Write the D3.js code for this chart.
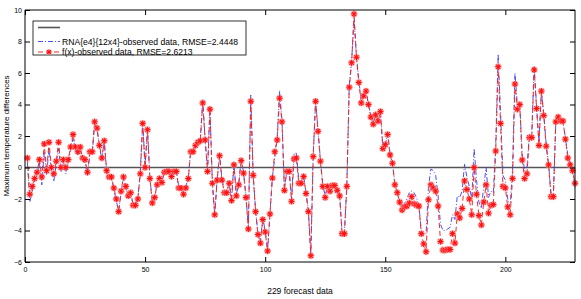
<!DOCTYPE html>
<html>
<head>
<meta charset="utf-8">
<script src="https://cdn.jsdelivr.net/npm/d3@7"></script>
<style>
body { margin: 0; background: #fff; }
svg { font-family: 'Liberation Sans', Arial, sans-serif; }
</style>
</head>
<body>
<script>
// f(x)-observed differences, forecast 1..229
const fxObs = [
  0.6, -1.7, -1.2, -0.7, -0.3, 0.5, -0.6, 1.5, -0.2, 1.6,
  0.0, -0.4, 0.4, 1.6, 0.0, 0.5, 0.0, 0.5, 1.3, 2.1,
  1.3, 1.0, 1.3, 0.6, 0.5, -0.3, 1.0, 1.0, 2.9, 2.5,
  1.4, 0.6, 1.7, -0.2, -0.6, -0.6, -1.3, -2.0, -2.8, -1.5,
  -0.6, -1.2, -1.8, -1.6, -2.4, -2.4, -2.0, -0.4, 2.8, 0.0,
  2.4, -0.7, -2.25, -1.9, -1.1, -0.7, -0.95, -0.3, -0.25, -0.25,
  -0.57, -0.25, -0.25, -1.3, -1.3, -1.7, -1.3, -0.7, 1.0, 1.0,
  1.4, 1.6, 1.7, 4.1, 1.75, -0.25, 3.7, -1.0, -3.0, -0.8,
  0.75, -0.8, -1.6, -1.6, -1.0, -2.1, 0.17, -1.8, -1.1, 0.44,
  -0.36, -1.9, -3.9, 4.2, -0.5, -2.8, -4.25, -4.8, -3.3, -4.1,
  -5.3, -2.95, -0.67, 1.0, 1.75, 4.4, 2.9, -1.45, -0.25, -0.25,
  -2.15, 0.55, 0.6, -1.0, -1.0, -0.57, -1.65, -2.8, -5.6, 0.7,
  4.2, 2.3, 0.4, -1.2, -1.9, -1.2, -1.5, -1.15, -1.15, -1.45,
  -1.8, -4.2, -4.2, -1.2, 5.1, 6.65, 9.75, 7.0, 5.4, 4.1,
  4.55, 4.85, 4.0, 3.2, 2.75, 3.35, 2.95, 3.55, 1.2, 1.45,
  2.1, 0.8, 0.27, -1.1, -1.6, -2.2, -2.7, -2.5, -2.45, -2.25,
  -1.85, -2.3, -2.4, -2.45, -4.2, -4.85, -5.35, -2.05, -1.1, -1.3,
  -1.5, -2.45, -4.7, -5.25, -5.25, -5.2, -5.2, -4.2, -4.8, -2.95,
  -3.2, -2.6, -0.85, -1.4, -2.0, -3.0, 0.0, -1.7, -3.05, -3.65,
  -2.2, -1.1, -2.9, -2.4, -2.35, 1.05, 6.4, 2.8, -1.2, -1.3,
  -2.5, -3.0, -0.7, 5.3, 3.7, 4.0, 0.48, -0.7, -0.4, 1.9,
  1.9, 6.2, 3.75, 1.4, 4.85, 3.3, 1.35, 0.17, -1.85, -1.85,
  2.9, 3.2, 2.95, 2.95, 1.8, 0.6, 0.17, -0.2, -1.0
]

// RNA{e4}{12x4}-observed differences
const rnaObs = [
  0.3, -2.2, -1.5, -0.9, -0.4, 0.3, -1.1, 1.0, -0.5, 1.2,
  -0.2, -0.9, 0.2, 1.2, -0.3, 0.3, -0.4, 0.3, 1.1, 1.9,
  1.1, 0.8, 1.2, 0.4, 0.3, -0.5, 0.8, 0.9, 2.8, 2.4,
  1.3, 0.5, 1.6, -0.3, -0.7, -0.7, -1.4, -2.1, -2.8, -1.6,
  -0.7, -1.3, -1.8, -1.6, -2.3, -2.3, -1.9, -0.3, 2.9, 0.1,
  2.5, -0.6, -2.2, -1.8, -1.0, -0.6, -0.9, -0.2, -0.1, -0.1,
  -0.5, -0.2, -0.2, -1.2, -1.2, -1.6, -1.2, -0.6, 1.1, 1.1,
  1.5, 1.7, 1.8, 4.3, 1.8, -0.2, 3.8, -0.9, -3.0, -0.7,
  0.8, -0.7, -1.5, -1.5, -0.9, -2.0, 0.3, -1.7, -1.0, 0.5,
  -0.3, -1.8, -3.8, 4.6, -0.4, -2.7, -4.2, -4.7, -3.2, -4.0,
  -5.2, -2.9, -0.6, 0.6, 1.9, 4.9, 3.0, -1.3, -0.2, -0.2,
  -2.0, 0.9, 0.9, -0.8, -0.9, -0.5, -1.6, -2.7, -5.5, 0.8,
  4.3, 2.4, 0.5, -1.1, -1.8, -1.1, -1.4, -1.1, -1.1, -1.4,
  -1.7, -4.1, -4.1, -1.1, 5.2, 6.8, 9.4, 7.1, 5.5, 4.3,
  4.4, 4.8, 4.0, 3.3, 2.8, 3.4, 3.0, 3.5, 1.3, 1.5,
  2.2, 0.9, 0.3, -1.0, -1.5, -2.1, -2.5, -2.3, -2.0, -1.6,
  -1.5, -1.6, -1.9, -2.4, -4.0, -4.3, -4.2, -1.2, -0.1, -0.2,
  -0.5, -1.8, -3.6, -4.0, -4.0, -3.9, -3.8, -3.0, -3.3, -1.8,
  -1.9, -1.5, 0.2, -0.6, -1.2, -2.0, 1.2, -0.8, -2.2, -2.6,
  -1.2, 0.0, -1.9, -1.5, -1.6, 1.5, 7.2, 3.5, -0.5, -0.8,
  -2.0, -2.5, 0.0, 6.0, 4.0, 4.0, 0.9, -0.2, 0.0, 2.1,
  2.2, 6.4, 3.9, 1.6, 4.9, 3.4, 1.5, 0.2, -1.6, -1.7,
  2.8, 3.2, 3.0, 2.9, 1.9, 0.8, 0.3, -0.3, -1.3
]

const xTicks = [0, 50, 100, 150, 200]
const yTicks = [-6, -4, -2, 0, 2, 4, 6, 8, 10]
const legendLabels = ['', 'RNA{e4}{12x4}-observed data, RMSE=2.4448', 'f(x)-observed data, RMSE=2.6213']

const W = 581
const H = 299
const plot = { left: 25, right: 575, top: 10, bottom: 262 }

const x = d3.scaleLinear().domain([0, 229]).range([plot.left, plot.right])
const y = d3.scaleLinear().domain([-6, 10]).range([plot.bottom, plot.top])

const svg = d3.select('body').append('svg')
	.attr('width', W)
	.attr('height', H)

const pts = (arr) => arr.map((v, i) => [i + 1, v])

const line = d3.line()
	.x(d => x(d[0]))
	.y(d => y(d[1]))

// zero reference line
svg.append('line')
	.attr('x1', plot.left).attr('x2', plot.right)
	.attr('y1', y(0)).attr('y2', y(0))
	.attr('stroke', '#555')
	.attr('stroke-width', 1.6)

svg.append('path')
	.datum(pts(rnaObs))
	.attr('d', line)
	.attr('fill', 'none')
	.attr('stroke', '#3a3af5')
	.attr('stroke-width', 0.9)
	.attr('stroke-dasharray', '5,2,1,2')

svg.append('path')
	.datum(pts(fxObs))
	.attr('d', line)
	.attr('fill', 'none')
	.attr('stroke', '#f02a2a')
	.attr('stroke-width', 1)
	.attr('stroke-dasharray', '5,3')

const star = (g, r) => {
	g.append('circle').attr('r', r + 0.6).attr('fill', '#ff9a9a').attr('opacity', 0.55)
	const a = r * 0.72
	const segs = [[-r, 0, r, 0], [0, -r, 0, r], [-a, -a, a, a], [-a, a, a, -a]]
	segs.forEach(s => {
		g.append('line')
			.attr('x1', s[0]).attr('y1', s[1]).attr('x2', s[2]).attr('y2', s[3])
			.attr('stroke', '#ff1010')
			.attr('stroke-width', 1.1)
	})
}

svg.append('g').selectAll('g')
	.data(pts(fxObs))
	.enter()
	.append('g')
	.attr('transform', d => `translate(${x(d[0])},${y(d[1])})`)
	.each(function() { star(d3.select(this), 3) })

// axes box with inward ticks (MATLAB style)
const tickLen = 5
const xb = svg.append('g').attr('transform', `translate(0,${plot.bottom})`)
	.call(d3.axisBottom(x).tickValues(xTicks).tickSize(-tickLen).tickPadding(5))
const xt = svg.append('g').attr('transform', `translate(0,${plot.top})`)
	.call(d3.axisTop(x).tickValues(xTicks).tickSize(-tickLen).tickFormat(''))
const yl = svg.append('g').attr('transform', `translate(${plot.left},0)`)
	.call(d3.axisLeft(y).tickValues(yTicks).tickSize(-tickLen).tickPadding(3))
const yr = svg.append('g').attr('transform', `translate(${plot.right},0)`)
	.call(d3.axisRight(y).tickValues(yTicks).tickSize(-tickLen).tickFormat(''))

;[xb, xt, yl, yr].forEach(g => {
	g.select('.domain').attr('stroke', '#000').attr('stroke-width', 1)
	g.selectAll('.tick line').attr('stroke', '#000')
	g.selectAll('.tick text').attr('fill', '#000').style('font-size', '7px')
})
xb.select('.domain').attr('d', `M${plot.left},0H${plot.right}`)
xt.select('.domain').attr('d', `M${plot.left},0H${plot.right}`)
yl.select('.domain').attr('d', `M0,${plot.bottom}V${plot.top}`)
yr.select('.domain').attr('d', `M0,${plot.bottom}V${plot.top}`)

svg.append('text')
	.attr('x', (plot.left + plot.right) / 2)
	.attr('y', 294)
	.attr('text-anchor', 'middle')
	.style('font-size', '8.5px')
	.text('229 forecast data')

svg.append('text')
	.attr('transform', `translate(9,${(plot.top + plot.bottom) / 2}) rotate(-90)`)
	.attr('text-anchor', 'middle')
	.style('font-size', '8px')
	.text('Maximum temperature differences')

// legend
const lg = svg.append('g').attr('transform', 'translate(33,21)')
lg.append('rect')
	.attr('width', 213).attr('height', 34)
	.attr('fill', '#fff').attr('stroke', '#000').attr('stroke-width', 0.8)

const rowY = [6.5, 20.5, 31]
const lineStyles = [
	{ stroke: '#555', dash: null, w: 1.6 },
	{ stroke: '#3a3af5', dash: '5,2,1,2', w: 0.9 },
	{ stroke: '#f02a2a', dash: '5,3', w: 1 }
]
legendLabels.forEach((lab, i) => {
	const s = lineStyles[i]
	lg.append('line')
		.attr('x1', 5).attr('x2', 27)
		.attr('y1', rowY[i]).attr('y2', rowY[i])
		.attr('stroke', s.stroke).attr('stroke-width', s.w)
		.attr('stroke-dasharray', s.dash)
	if (i === 2) {
		const m = lg.append('g').attr('transform', `translate(16,${rowY[i]})`)
		star(m, 2.5)
	}
	lg.append('text')
		.attr('x', 29).attr('y', rowY[i] + 3)
		.style('font-size', '8.6px')
		.text(lab)
})
</script>
</body>
</html>
